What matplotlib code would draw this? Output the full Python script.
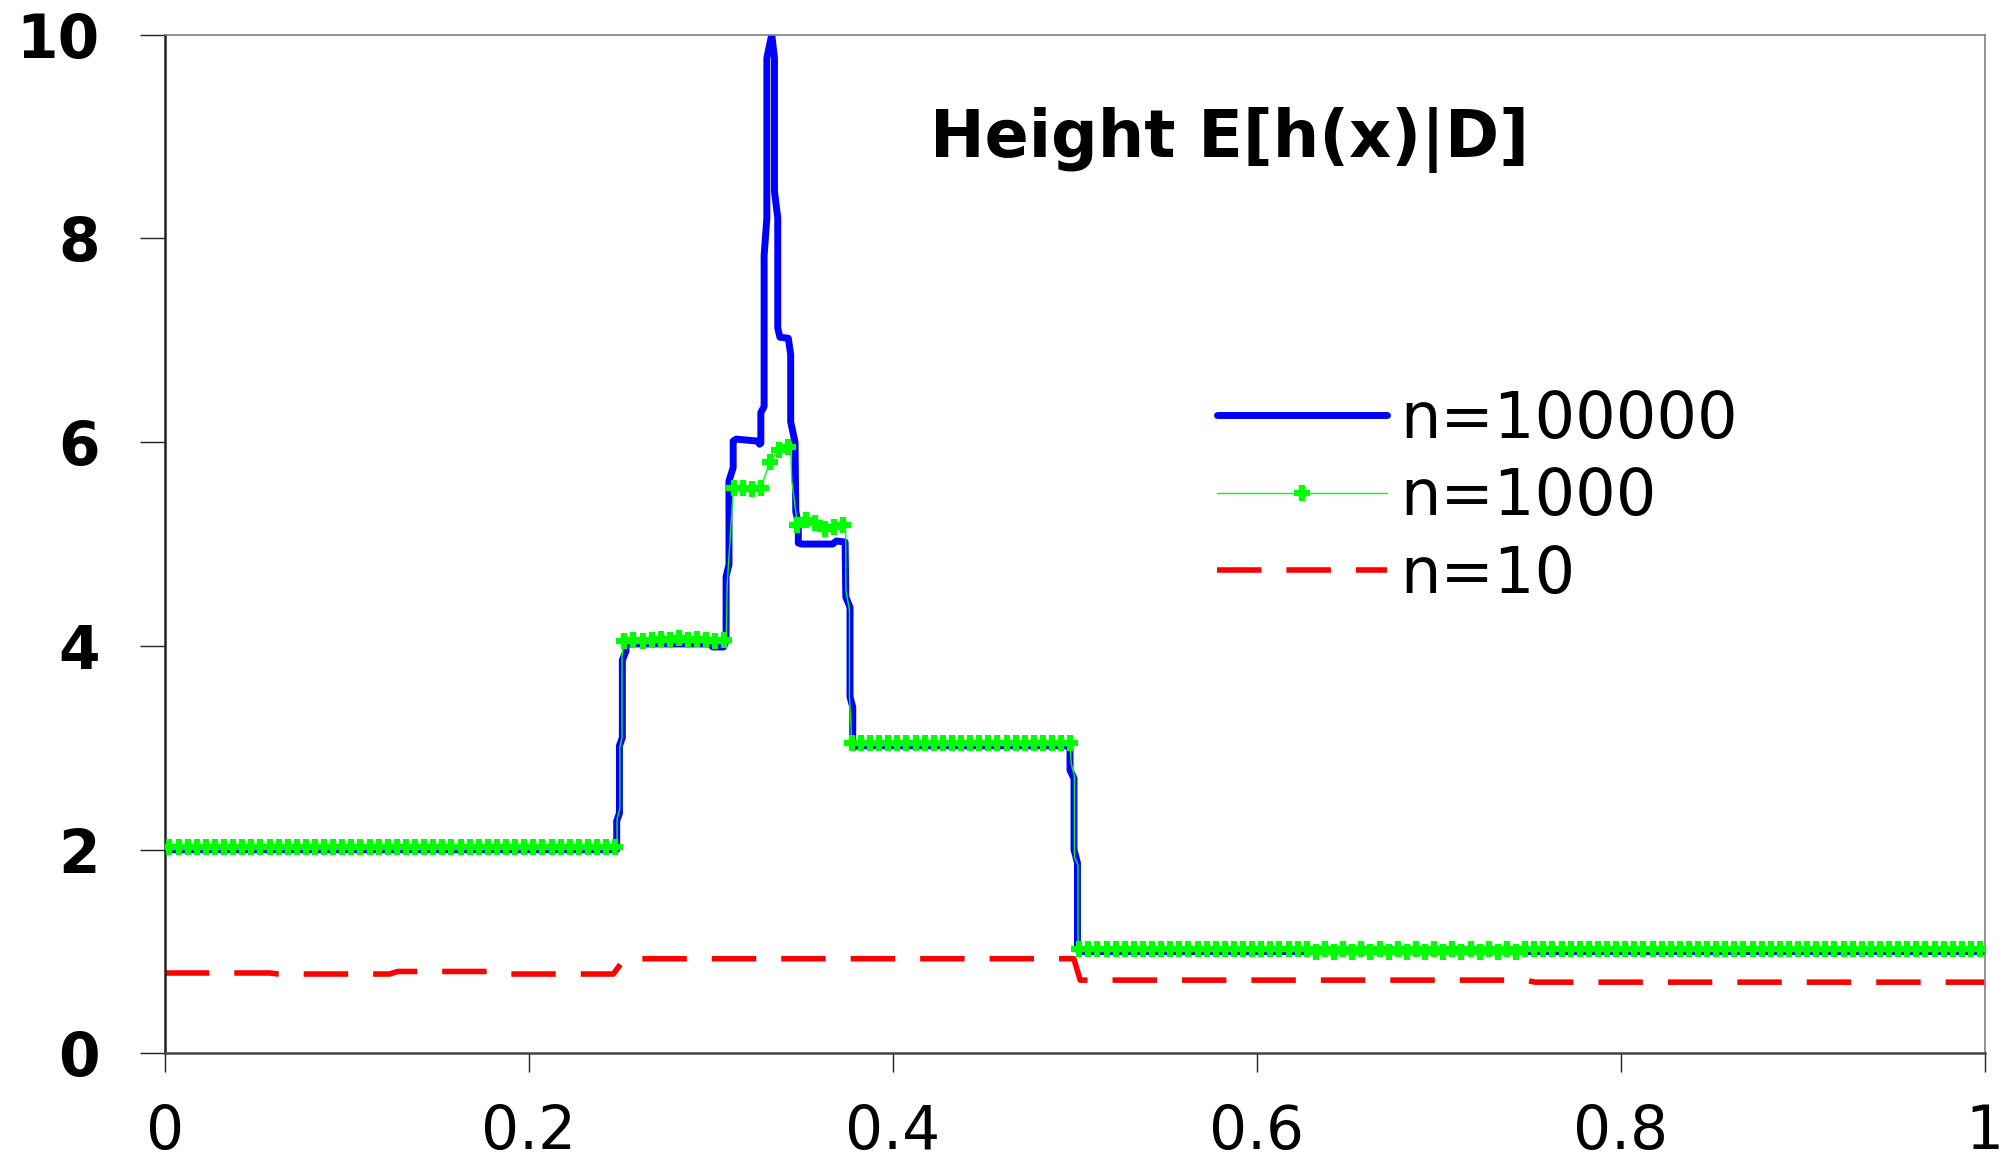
import numpy as np
import matplotlib
matplotlib.use("Agg")
import matplotlib.pyplot as plt
from matplotlib.legend_handler import HandlerTuple

# n=100000 : fine step curve (vertices)
blue_x = [0.0, 0.2480, 0.2483, 0.2483, 0.2498, 0.2498, 0.2514, 0.2514, 0.2534, 0.2534,
          0.3000, 0.3010, 0.3070, 0.3084, 0.3084, 0.3100, 0.3100, 0.3123, 0.3123, 0.3140,
          0.3260, 0.3268, 0.3275, 0.3275, 0.3293, 0.3293, 0.3308, 0.3308, 0.3335, 0.3350,
          0.3350, 0.3368, 0.3368, 0.3380, 0.3426, 0.3439, 0.3439, 0.3463, 0.3467, 0.3481,
          0.3481, 0.3500, 0.3670, 0.3690, 0.3738, 0.3742, 0.3765, 0.3765, 0.3780, 0.3780,
          0.3800, 0.4960, 0.4974, 0.4974, 0.4996, 0.4996, 0.5015, 0.5015, 0.5026, 1.0]
blue_y = [2.00, 2.00, 2.00, 2.28, 2.36, 3.02, 3.10, 3.86, 3.95, 4.02,
          4.02, 3.99, 3.99, 4.05, 4.68, 4.80, 5.62, 5.75, 6.01, 6.03,
          6.01, 5.98, 5.99, 6.29, 6.35, 7.83, 8.20, 9.77, 10.0, 9.77,
          8.46, 8.20, 7.12, 7.03, 7.02, 6.86, 6.20, 6.00, 5.32, 5.20,
          5.01, 5.00, 5.00, 5.03, 5.02, 4.48, 4.38, 3.50, 3.40, 3.00,
          3.02, 3.02, 3.00, 2.78, 2.70, 2.00, 1.87, 1.05, 1.00, 1.00]

# n=1000 : marked sample points every 0.005
green_x = np.arange(200) * 0.005 + 0.0025
green_y = ([2.03] * 50
           + [4.05, 4.06, 4.05, 4.06, 4.07, 4.06, 4.08, 4.06, 4.07, 4.06, 4.05, 4.06]
           + [5.55, 5.55, 5.54, 5.55]
           + [5.81, 5.92, 5.95]
           + [5.19, 5.24, 5.21, 5.15, 5.17, 5.19]
           + [3.05] * 25
           + [1.03] * 25 + [1.03, 1.00] * 12 + [1.03] + [1.03] * 50)
# unmarked points of the n=1000 line (jumps and ends)
green_x2 = [0.0, 0.2485, 0.2485, 0.2500, 0.2500, 0.2512, 0.2512,
            0.3085, 0.3090, 0.3115, 0.3440, 0.3445, 0.3465,
            0.3742, 0.3742, 0.3762, 0.3762,
            0.4980, 0.4998, 0.4998, 0.5018, 0.5018, 1.0]
green_y2 = [2.03, 2.03, 2.30, 2.40, 3.00, 3.10, 3.90,
            4.10, 4.60, 5.30, 5.90, 5.62, 5.35,
            5.10, 4.55, 4.35, 3.50,
            2.85, 2.72, 1.93, 1.85, 1.10, 1.03]

# n=10
red_x = [0.0, 0.0575, 0.0625, 0.1235, 0.1280, 0.1825, 0.1880, 0.2465, 0.2525,
         0.4995, 0.5030, 0.7475, 0.7530, 1.0]
red_y = [0.79, 0.79, 0.78, 0.78, 0.805, 0.805, 0.78, 0.78, 0.93,
         0.93, 0.72, 0.72, 0.70, 0.70]

labels = ["n=100000", "n=1000", "n=10"]
xticks = [0, 0.2, 0.4, 0.6, 0.8, 1]
xticklabels = ["0", "0.2", "0.4", "0.6", "0.8", "1"]
yticks = [0, 2, 4, 6, 8, 10]

fig = plt.figure(figsize=(20.13, 11.66), dpi=100)
ax = fig.add_axes([0.0819, 0.0965, 0.9040, 0.8738])

line_b, = ax.plot(blue_x, blue_y, color="#0000ff", lw=5.0, solid_joinstyle="round",
                  solid_capstyle="round", zorder=2)

gx = np.concatenate([green_x, green_x2])
gy = np.concatenate([green_y, green_y2])
order = np.argsort(gx, kind="stable")
line_g, = ax.plot(gx[order], gy[order], color="#00ff00", lw=1.0, zorder=3)
marks_g, = ax.plot(green_x, green_y, ls="none", marker="+", ms=12, mew=4.5,
                   color="#00ff00", zorder=3)

line_r, = ax.plot(red_x, red_y, color="#ff0000", lw=4.0, dashes=(8.0, 4.5), zorder=2)

ax.set_xlim(0, 1)
ax.set_ylim(0, 10)
ax.set_xticks(xticks)
ax.set_xticklabels(xticklabels, fontsize=43)
ax.set_yticks(yticks)
ax.set_yticklabels([str(v) for v in yticks], fontsize=43, fontweight="bold")
ax.tick_params(axis="y", length=18, width=1.0, pad=29, color="#222222")
ax.tick_params(axis="x", length=13.5, width=1.0, pad=22, color="#222222")

ax.spines["left"].set_color("#222222")
ax.spines["left"].set_linewidth(1.8)
ax.spines["bottom"].set_color("#444444")
ax.spines["bottom"].set_linewidth(1.8)
for s in ["top", "right"]:
    ax.spines[s].set_color("#808080")
    ax.spines[s].set_linewidth(1.2)

ax.text(0.585, 0.897, "Height E[h(x)|D]", transform=ax.transAxes, ha="center",
        va="center", fontsize=47, fontweight="bold")

ax.legend([line_b, (line_g, marks_g), line_r], labels,
          handler_map={tuple: HandlerTuple(ndivide=1)},
          loc="center left", bbox_to_anchor=(0.578, 0.546), frameon=False,
          fontsize=46, handlelength=2.66, handletextpad=0.22, labelspacing=0.24,
          borderpad=0, borderaxespad=0)

fig.savefig("out.png", dpi=100)
